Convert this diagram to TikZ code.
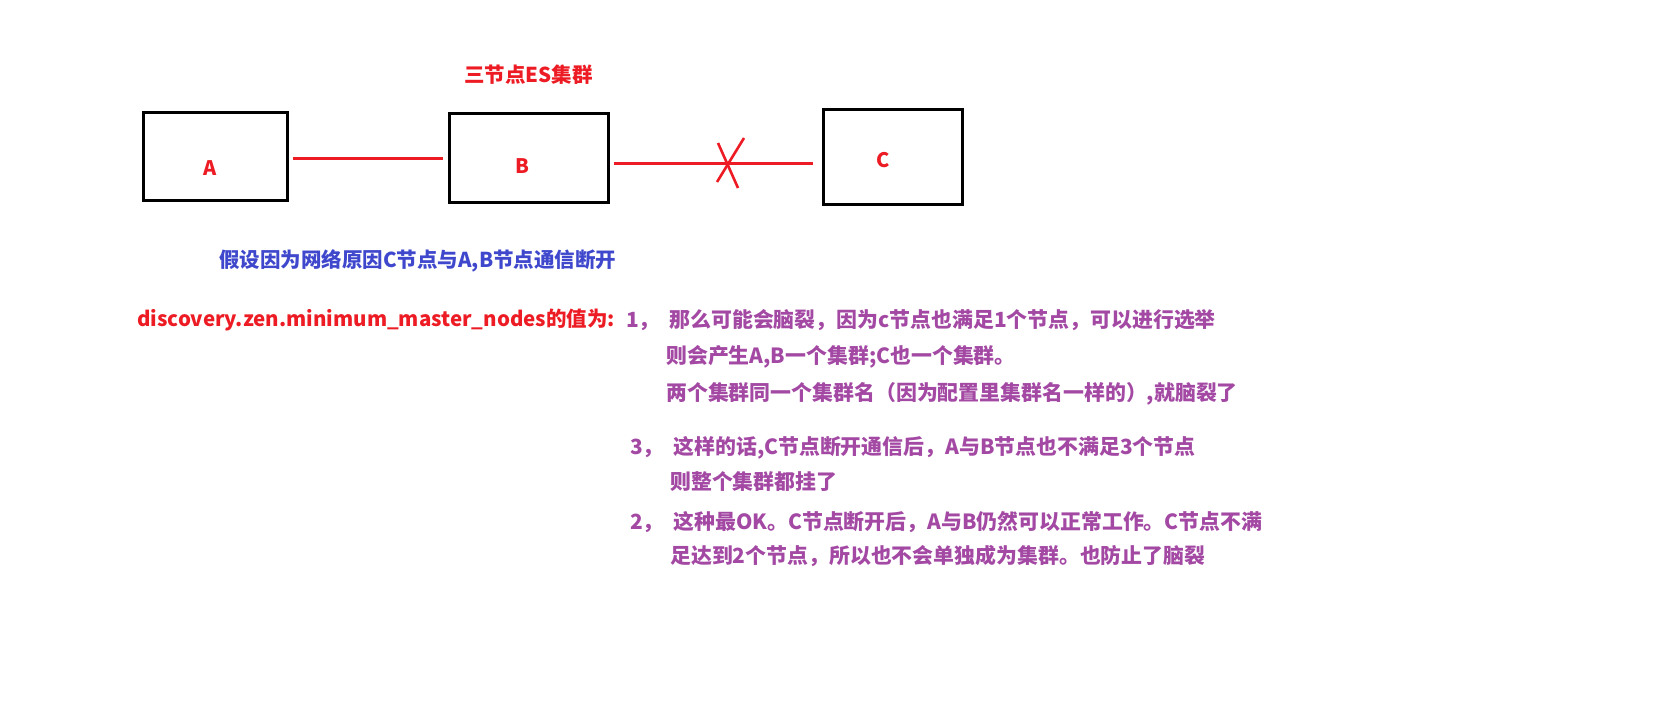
\documentclass[tikz,border=0pt]{standalone}
\usepackage{fontspec}
\setmainfont{Noto Sans CJK SC}
\definecolor{pred}{HTML}{ED1C24}
\definecolor{pblue}{HTML}{3F48CC}
\definecolor{ppurple}{HTML}{A349A4}
\begin{document}
\begin{tikzpicture}[x=1pt,y=-1pt,
  box/.style={draw=black,line width=3pt,inner sep=0pt},
  lbl/.style={text=pred,font=\fontsize{20}{24}\selectfont\bfseries,inner sep=0pt},
  link/.style={draw=pred,line width=3pt},
  txt/.style={anchor=west,inner sep=0pt,font=\fontsize{20.5}{24}\selectfont\bfseries},
  ptxt/.style={txt,text=ppurple,font=\fontsize{20.9}{24}\selectfont\bfseries},
]
\fill[white] (0,0) rectangle (1673,701);
\useasboundingbox (0,0) rectangle (1673,701);
% boxes
\node[box,minimum width=144pt,minimum height=88pt] (A) at (215,156) {};
\node[box,minimum width=159pt,minimum height=89pt] (B) at (528.5,157.5) {};
\node[box,minimum width=139pt,minimum height=95pt] (C) at (892.5,156.5) {};
\node[lbl] (la) at (210,168) {A};
\node[lbl] (lb) at (522,166) {B};
\node[lbl] (lc) at (883,160) {C};
% title
\node[txt,text=pred] (title) at (464,75) {三节点ES集群};
% links
\draw[link] ([shift={(4,2)}]A.east) -- ([shift={(-5,0.5)}]B.west);
\coordinate (cx) at (728,163);
\draw[link] ([shift={(4,5.5)}]B.east) -- ([shift={(-9,6.5)}]C.west);
\draw[draw=pred,line width=2.6pt] (718,143) -- (738,188);
\draw[draw=pred,line width=2.6pt] (744,138) -- (717,182);
% texts
\node[txt,text=pblue] (t1) at (219,261) {假设因为网络原因C节点与A,B节点通信断开};
\node[txt,text=pred] (t2) at (137,320) {discovery.zen.minimum\_master\_nodes的值为:};
\node[ptxt] (p1) at (626,320) {1，\ \ 那么可能会脑裂，因为c节点也满足1个节点，可以进行选举};
\node[ptxt] (p2) at (666,357) {则会产生A,B一个集群;C也一个集群。};
\node[ptxt] (p3) at (666,394) {两个集群同一个集群名（因为配置里集群名一样的）,就脑裂了};
\node[ptxt] (p4) at (630,448) {3，\ \ 这样的话,C节点断开通信后，A与B节点也不满足3个节点};
\node[ptxt] (p5) at (670,482) {则整个集群都挂了};
\node[ptxt] (p6) at (630,522) {2，\ \ 这种最OK。C节点断开后，A与B仍然可以正常工作。C节点不满};
\node[ptxt] (p7) at (670,556) {足达到2个节点，所以也不会单独成为集群。也防止了脑裂};
\end{tikzpicture}
\end{document}
